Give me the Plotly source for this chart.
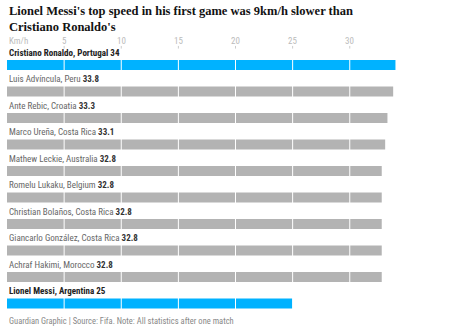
import plotly.graph_objects as go

players = ["Cristiano Ronaldo, Portugal", "Luis Advíncula, Peru", "Ante Rebic, Croatia",
           "Marco Ureña, Costa Rica", "Mathew Leckie, Australia", "Romelu Lukaku, Belgium",
           "Christian Bolaños, Costa Rica", "Giancarlo González, Costa Rica",
           "Achraf Hakimi, Morocco", "Lionel Messi, Argentina"]
speeds = [34, 33.8, 33.3, 33.1, 32.8, 32.8, 32.8, 32.8, 32.8, 25]
highlight = [True, False, False, False, False, False, False, False, False, True]
tick_vals = [0, 5, 10, 15, 20, 25, 30]
tick_text = ["Km/h", "5", "10", "15", "20", "25", "30"]

BLUE = "#00b2ff"
GREY = "#b3b3b3"
rows = list(range(len(players)))
colors = [BLUE if h else GREY for h in highlight]

fig = go.Figure()
fig.add_trace(go.Bar(x=speeds, y=rows, orientation="h", marker=dict(color=colors, line=dict(width=0)),
                     width=0.38, hoverinfo="skip"))

sans = "Liberation Sans Narrow, Roboto Condensed, Liberation Sans, sans-serif"
annotations = []
for r, name, v, h in zip(rows, players, speeds, highlight):
    vs = f"{v:g}"
    if h:
        txt = f"<b>{name} {vs}</b>"
        col = "#222"
    else:
        txt = f"{name} <b><span style='color:#333'>{vs}</span></b>"
        col = "#666"
    annotations.append(dict(x=0, y=r - 0.46, xref="x", yref="y", text=txt, showarrow=False,
                            xanchor="left", yanchor="middle", font=dict(family=sans, size=9, color=col)))
for tv, tt in zip(tick_vals, tick_text):
    annotations.append(dict(x=tv, y=-0.9, xref="x", yref="y", text=tt, showarrow=False,
                            xanchor="left" if tv == 0 else "center", yanchor="middle",
                            font=dict(family=sans, size=9, color="#bbbbbb")))
annotations.append(dict(x=0, y=9.66, xref="x", yref="y", xanchor="left", yanchor="middle", showarrow=False,
                        text="Guardian Graphic | Source: Fifa. Note: All statistics after one match",
                        font=dict(family=sans, size=8.5, color="#888888")))
annotations.append(dict(x=0, y=-2.37, xref="x", yref="y", xanchor="left", yanchor="top", showarrow=False, align="left",
                        text="<b>Lionel Messi's top speed in his first game was 9km/h slower than<br>Cristiano Ronaldo's</b>",
                        font=dict(family="Liberation Serif, serif", size=12.5, color="#121212")))

shapes = []
for tv in tick_vals[1:]:
    shapes.append(dict(type="line", xref="x", yref="paper", x0=tv, x1=tv, y0=0, y1=1, layer="above",
                       line=dict(color="white", width=1)))
    shapes.append(dict(type="line", xref="x", yref="y", x0=tv, x1=tv, y0=-0.72, y1=-0.62, layer="above",
                       line=dict(color="#cccccc", width=1)))

fig.update_layout(
    width=468, height=335, margin=dict(l=7, r=4, t=0, b=0),
    paper_bgcolor="white", plot_bgcolor="white", showlegend=False,
    xaxis=dict(range=[0, 40], showgrid=False, zeroline=False, showticklabels=False, fixedrange=True),
    yaxis=dict(range=[10.19, -2.453], showgrid=False, zeroline=False, showticklabels=False, fixedrange=True),
    annotations=annotations, shapes=shapes,
)
fig.write_html("out.html")
